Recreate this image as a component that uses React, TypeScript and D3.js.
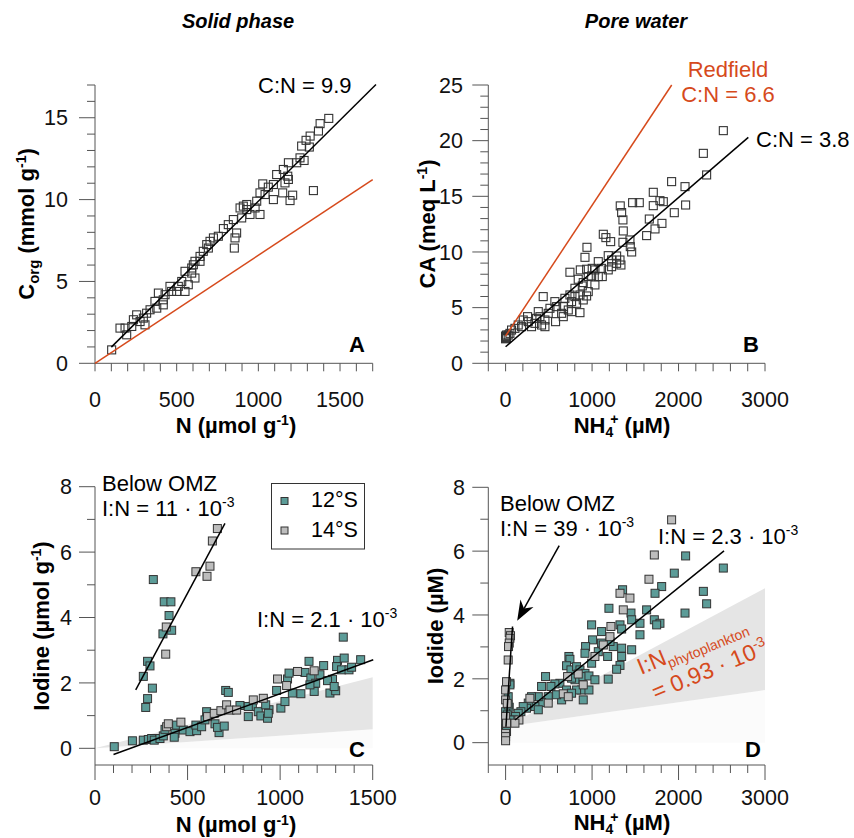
import React from "react";
import * as d3 from "d3";

const FONT = "'Liberation Sans', Arial, Helvetica, sans-serif";
const TEAL = "#5c9c98";
const GRAY = "#bdbdbd";
const RED = "#d64a1c";
const AXIS = "#555";

// ---------- Panel A : solid phase C_org vs N ----------
const aPoints: [number, number][] = [
  [1431, 14.96], [1378, 14.64], [1368, 14.19], [1317, 13.88], [1292, 13.62], [1265, 13.27], [1312, 13.21],
  [1255, 12.55], [1280, 12.39], [1235, 12.25], [1184, 12.25], [1153, 11.84], [1180, 11.43], [1112, 11.53],
  [1163, 11.02], [1184, 11.23], [1027, 10.96], [1061, 10.76], [1010, 10.41], [1041, 10.31], [1092, 10.0],
  [1149, 10.41], [1210, 10.27], [1194, 9.94], [1337, 10.55], [990, 9.9], [980, 9.49], [1010, 9.09],
  [908, 9.6], [929, 9.7], [888, 9.49], [949, 9.09], [898, 8.88], [847, 8.78], [816, 8.47], [786, 8.23],
  [867, 7.96], [857, 7.66], [853, 7.04], [725, 7.66], [704, 7.45], [684, 7.25], [663, 6.84], [643, 6.53],
  [612, 6.23], [602, 6.02], [592, 5.82], [551, 5.62], [612, 5.21], [571, 4.8], [531, 5.0], [500, 4.39],
  [459, 4.7], [551, 4.39], [429, 4.19], [388, 4.29], [367, 3.78], [418, 3.57], [378, 3.37], [337, 3.27],
  [316, 3.06], [296, 2.76], [276, 2.55], [235, 2.66], [225, 2.25], [184, 2.15], [153, 2.15], [194, 1.74],
  [102, 0.82], [643, 6.23], [694, 7.04], [755, 7.76], [929, 9.39], [1092, 10.92], [418, 3.88], [469, 4.39],
  [306, 2.35], [255, 2.96], [510, 4.7], [592, 5.51],
];
const aFit: [number, number][] = [[100, 0.99], [1720, 17.03]];
const aRedfield: [number, number][] = [[0, 0], [1700, 11.22]];
const aXMajor = [0, 500, 1000, 1500];
const aYMajor = [0, 5, 10, 15];

// ---------- Panel B : pore water CA vs NH4+ ----------
const bPoints: [number, number][] = [
  [2518, 20.9], [2287, 18.86], [2325, 16.92], [1920, 16.32], [2075, 15.87], [2082, 14.22], [1951, 13.53],
  [1708, 15.36], [1708, 14.16], [1785, 14.61], [1824, 14.52], [1808, 12.57], [1728, 12.07], [1662, 12.96],
  [1631, 11.47], [1546, 14.43], [1469, 14.43], [1326, 14.14], [1342, 13.54], [1357, 12.88], [1361, 11.89],
  [1357, 10.87], [1438, 11.08], [1442, 10.48], [1458, 10.0], [1130, 11.59], [1160, 11.29], [1215, 10.93],
  [941, 10.42], [918, 9.52], [744, 8.18], [435, 5.99], [1187, 9.67], [1284, 9.64], [1323, 9.28],
  [1334, 8.83], [1226, 9.28], [1226, 8.68], [1187, 8.39], [1110, 8.53], [1118, 7.79], [1072, 7.79],
  [1033, 8.39], [1002, 8.53], [937, 8.45], [864, 8.39], [840, 7.55], [898, 7.25], [956, 7.79], [995, 7.85],
  [1033, 7.04], [887, 6.95], [802, 6.74], [860, 6.14], [937, 6.05], [956, 6.44], [898, 5.69], [802, 5.99],
  [744, 6.14], [763, 5.54], [821, 5.39], [860, 4.55], [725, 4.79], [667, 5.09], [648, 4.49], [590, 5.09],
  [570, 5.54], [513, 4.94], [493, 4.49], [578, 3.74], [455, 3.89], [416, 3.44], [378, 4.64], [358, 4.04],
  [339, 3.59], [262, 3.74], [254, 4.19], [204, 3.89], [185, 3.29], [146, 3.44], [108, 3.14], [69, 2.99],
  [50, 2.69], [30, 2.54], [5, 2.39], [2, 2.25], [11, 2.54], [300, 3.29], [455, 3.29], [667, 4.19],
  [763, 4.64], [1072, 9.13], [1284, 8.98], [686, 5.84], [397, 4.19], [0, 2.2], [5, 2.35], [0, 2.45], [10, 2.3],
];
const bFit: [number, number][] = [[0, 1.49], [2807, 20.3]];
const bRedfield: [number, number][] = [[0, 2.45], [1921, 25]];
const bXMajor = [0, 1000, 2000, 3000];
const bYMajor = [0, 5, 10, 15, 20, 25];

// ---------- Panel C : solid phase iodine vs N ----------
const c12: [number, number][] = [
  [315, 5.16], [374, 4.48], [410, 4.48], [400, 4.06], [414, 3.61], [367, 3.5], [284, 2.66], [297, 2.52],
  [261, 2.2], [310, 1.84], [284, 1.52], [274, 1.25],
  [104, 0.05], [202, 0.23], [261, 0.25], [288, 0.27], [306, 0.3], [320, 0.25], [351, 0.3], [369, 0.38],
  [378, 0.58], [432, 0.46], [428, 0.34], [441, 0.71], [477, 0.56], [513, 0.51], [549, 0.54], [545, 0.71],
  [576, 0.66], [603, 1.12], [594, 0.87], [648, 0.75], [670, 0.48], [662, 0.64], [698, 0.68], [706, 1.77],
  [720, 1.71], [783, 1.31], [828, 0.97], [850, 1.28], [882, 1.12], [896, 0.99], [932, 0.92], [940, 1.18],
  [922, 1.33], [1004, 1.23], [981, 1.77], [1026, 1.43], [1040, 2.12], [1048, 2.3], [1066, 1.69],
  [1112, 1.67], [1134, 2.32], [1156, 2.66], [1166, 2.15], [1192, 1.99], [1184, 1.74], [1235, 2.53],
  [1215, 2.25], [1269, 1.69], [1300, 1.76], [1283, 2.11], [1256, 2.07], [1310, 2.69], [1305, 2.5],
  [1346, 2.76], [1341, 3.4], [1332, 2.4], [1372, 2.4], [1386, 2.48], [1435, 2.71], [1292, 1.89],
  [1161, 1.94], [828, 1.28], [936, 1.07],
];
const c14: [number, number][] = [
  [661, 6.72], [634, 6.34], [621, 5.57], [605, 5.26], [545, 5.4], [385, 3.71], [382, 2.88],
  [387, 0.66], [396, 0.75], [464, 0.8], [608, 0.97], [644, 1.07], [680, 1.15], [711, 1.33], [729, 1.17],
  [765, 1.17], [855, 1.48], [909, 1.53], [986, 2.12], [1035, 1.92], [1094, 2.35], [1184, 2.37],
];
const cFit: [number, number][] = [[100, -0.19], [1503, 2.71]];
const cFitOMZ: [number, number][] = [[220, 1.79], [702, 6.88]];
const cWedgeTop: [number, number][] = [[0, 0], [1500, 2.17]];
const cWedgeBottom: [number, number][] = [[0, 0], [1500, 0.58]];
const cXMajor = [0, 500, 1000, 1500];
const cYMajor = [0, 2, 4, 6, 8];

// ---------- Panel D : pore water iodide vs NH4+ ----------
const d12: [number, number][] = [
  [50, 1.86], [30, 1.44], [42, 1.11], [0, 0.97], [19, 0.87], [0, 0.45], [0, 0.55], [11, 0.35], [31, 1.18],
  [50, 1.81],
  [2082, 5.85], [1951, 5.31], [1805, 4.89], [1728, 4.68], [2287, 4.74], [2325, 4.35], [2518, 5.47],
  [1353, 4.79], [1195, 4.21], [1450, 4.06], [1631, 4.16], [2075, 4.06], [1458, 3.85], [1554, 3.74],
  [1720, 3.85], [1785, 3.74], [1747, 3.69], [1323, 3.69], [1342, 3.56], [995, 3.69], [1110, 3.48],
  [1554, 3.38], [1245, 3.01], [1207, 3.17], [1342, 2.96], [1458, 2.91], [1006, 3.22], [925, 3.01],
  [918, 2.8], [1072, 2.85], [1110, 3.12], [1180, 2.7], [995, 2.49], [1342, 2.7], [1323, 2.42], [1284, 2.3],
  [1187, 1.99], [732, 2.7], [744, 2.61], [705, 2.41], [756, 2.28], [821, 2.38], [860, 2.28], [918, 2.17],
  [887, 2.07], [964, 2.09], [802, 1.97], [763, 2.02], [462, 2.07], [628, 1.86], [570, 1.84], [524, 1.76],
  [416, 1.76], [879, 1.65], [964, 1.65], [1033, 1.97], [821, 1.65], [705, 1.65], [763, 1.55], [898, 1.34],
  [648, 1.34], [590, 1.5], [493, 1.44], [416, 1.26], [378, 1.44], [300, 1.44], [339, 1.13], [378, 1.03],
  [262, 1.24], [242, 1.08], [204, 1.13], [177, 0.97], [146, 0.92], [115, 0.82], [88, 0.71], [50, 0.71],
];
const d14: [number, number][] = [
  [42, 3.45], [57, 3.35], [50, 3.27], [42, 3.12], [34, 3.01], [30, 2.59], [11, 1.91], [0, 1.65], [0, 1.34],
  [0, 0.82], [11, 0.61], [0, 0.29], [0, 0.19], [0, 0.06], [19, 1.23],
  [1920, 6.98], [1720, 5.88], [1658, 5.12], [1323, 4.68], [1438, 4.53], [1361, 4.16], [1218, 3.64],
  [1207, 3.32], [1130, 3.06], [1033, 2.7], [840, 2.15], [717, 2.07], [898, 1.81], [667, 1.53], [725, 1.44],
  [493, 1.24], [281, 1.39], [154, 0.71], [108, 0.61],
];
const dFit: [number, number][] = [[108, 0.71], [2526, 6.01]];
const dFitOMZ: [number, number][] = [[4, 0.5], [80, 3.64]];
const dWedgeTop: [number, number][] = [[0, 0.5], [3000, 4.84]];
const dWedgeBottom: [number, number][] = [[0, 0.5], [3000, 1.65]];
const dArrow: [number, number][] = [[620, 6.17], [134, 3.82]];
const dXMajor = [0, 1000, 2000, 3000];
const dYMajor = [0, 2, 4, 6, 8];

// ---------- scales ----------
const axX = d3.scaleLinear().domain([0, 1700]).range([95, 372.7]);
const ayY = d3.scaleLinear().domain([0, 17]).range([363.3, 85]);
const bxX = d3.scaleLinear().domain([-200, 3000]).range([488.3, 765]);
const byY = d3.scaleLinear().domain([0, 25]).range([363.3, 85]);
const cxX = d3.scaleLinear().domain([0, 1500]).range([95, 372.7]);
const cyY = d3.scaleLinear().domain([-0.51, 8]).range([765, 486.7]);
const dxX = d3.scaleLinear().domain([-200, 3000]).range([488.3, 765]);
const dyY = d3.scaleLinear().domain([-0.7, 8]).range([765, 487.3]);

type Sc = d3.ScaleLinear<number, number>;

function YAxis({ x, y, top, bottom, step, major, labelRight }: { x: number; y: Sc; top: number; bottom: number; step: number; major: number[]; labelRight: number }) {
  const [d0, d1] = y.domain();
  const start = Math.ceil(Math.max(0, d0) / step) * step;
  const ticks = d3.range(start, d1 + 1e-9, step);
  return (
    <g>
      <line x1={x} x2={x} y1={top} y2={bottom} stroke={AXIS} strokeWidth={1} />
      {ticks.map((t) => {
        const isMajor = major.some((m) => Math.abs(m - t) < 1e-9);
        return <line key={t} x1={x - (isMajor ? 16 : 8)} x2={x} y1={y(t)} y2={y(t)} stroke={AXIS} strokeWidth={1} />;
      })}
      {major.map((m) => (
        <text key={"l" + m} x={labelRight} y={y(m)} dy="0.36em" textAnchor="end" fontSize={21.5} fontFamily={FONT} fill="#111">
          {m}
        </text>
      ))}
    </g>
  );
}

function XAxis({ y0, x, left, right, from, to, step, major, majorLen, minorLen, baseline }: { y0: number; x: Sc; left: number; right: number; from: number; to: number; step: number; major: number[]; majorLen: number; minorLen: number; baseline: number }) {
  const ticks = d3.range(from, to + 1e-9, step);
  return (
    <g>
      <line x1={left} x2={right} y1={y0} y2={y0} stroke={AXIS} strokeWidth={1} />
      {ticks.map((t) => {
        const isMajor = major.some((m) => Math.abs(m - t) < 1e-9);
        return <line key={t} x1={x(t)} x2={x(t)} y1={y0} y2={y0 + (isMajor ? majorLen : minorLen)} stroke={AXIS} strokeWidth={1} />;
      })}
      {major.map((m) => (
        <text key={"l" + m} x={x(m)} y={baseline} textAnchor="middle" fontSize={21.5} fontFamily={FONT} fill="#111">
          {m}
        </text>
      ))}
    </g>
  );
}

function Seg({ pts, x, y, color, w = 1.5 }: { pts: [number, number][]; x: Sc; y: Sc; color: string; w?: number }) {
  const l = d3.line<[number, number]>().x((d) => x(d[0])).y((d) => y(d[1]));
  return <path d={l(pts) || ""} stroke={color} strokeWidth={w} fill="none" />;
}

function OpenSquares({ pts, x, y }: { pts: [number, number][]; x: Sc; y: Sc }) {
  return (
    <g>
      {pts.map((p, i) => (
        <rect key={i} x={x(p[0]) - 4} y={y(p[1]) - 4} width={8} height={8} fill="none" stroke="#333" strokeWidth={1.1} />
      ))}
    </g>
  );
}

function FilledSquares({ pts, x, y, fill }: { pts: [number, number][]; x: Sc; y: Sc; fill: string }) {
  return (
    <g>
      {pts.map((p, i) => (
        <rect key={i} x={x(p[0]) - 4} y={y(p[1]) - 4} width={8} height={8} fill={fill} stroke="#333" strokeWidth={1} />
      ))}
    </g>
  );
}

function Wedge({ top, bottom, x, y, fill }: { top: [number, number][]; bottom: [number, number][]; x: Sc; y: Sc; fill: string }) {
  const pts = [...top, ...bottom.slice().reverse()];
  const l = d3.line<[number, number]>().x((d) => x(d[0])).y((d) => y(d[1]));
  return <path d={(l(pts) || "") + "Z"} fill={fill} stroke="none" />;
}

function Below({ bottom, x, y }: { bottom: [number, number][]; x: Sc; y: Sc }) {
  const pts: [number, number][] = [...bottom, [bottom[bottom.length - 1][0], 0], [bottom[0][0], 0]];
  const l = d3.line<[number, number]>().x((d) => x(d[0])).y((d) => y(d[1]));
  return <path d={(l(pts) || "") + "Z"} fill="#fbfbfb" stroke="none" />;
}

function Arrow({ pts, x, y }: { pts: [number, number][]; x: Sc; y: Sc }) {
  const x0 = x(pts[0][0]), y0 = y(pts[0][1]), x1 = x(pts[1][0]), y1 = y(pts[1][1]);
  const dx = x1 - x0, dy = y1 - y0;
  const L = Math.hypot(dx, dy);
  const ux = dx / L, uy = dy / L;
  const px = -uy, py = ux;
  const bx = x1 - 20 * ux, by = y1 - 20 * uy;
  const nx = x1 - 14 * ux, ny = y1 - 14 * uy;
  const head = `M${x1},${y1} L${bx + 7.5 * px},${by + 7.5 * py} L${nx},${ny} L${bx - 7.5 * px},${by - 7.5 * py} Z`;
  return (
    <g>
      <line x1={x0} y1={y0} x2={nx} y2={ny} stroke="#000" strokeWidth={1.5} />
      <path d={head} fill="#000" />
    </g>
  );
}

const T = (props: any) => <text fontFamily={FONT} {...props} />;

export default function App() {
  return (
    <svg width={854} height={838} style={{ position: "absolute", left: 0, top: 0, background: "#fff" }}>
      <rect x={0} y={0} width={854} height={838} fill="#fff" />
      {/* titles */}
      <T x={238} y={28} textAnchor="middle" fontSize={20} fontWeight="bold" fontStyle="italic">Solid phase</T>
      <T x={636} y={28} textAnchor="middle" fontSize={20} fontWeight="bold" fontStyle="italic">Pore water</T>

      {/* ===== Panel A ===== */}
      <YAxis x={axX(0)} y={ayY} top={ayY(17)} bottom={ayY(0)} step={1} major={aYMajor} labelRight={68} />
      <XAxis y0={ayY(0)} x={axX} left={axX(0)} right={axX(1700)} from={0} to={1700} step={100} major={aXMajor} majorLen={8} minorLen={8} baseline={407} />
      <OpenSquares pts={aPoints} x={axX} y={ayY} />
      <Seg pts={aRedfield} x={axX} y={ayY} color={RED} />
      <Seg pts={aFit} x={axX} y={ayY} color="#000" />
      <T x={258} y={93} fontSize={22}>C:N = 9.9</T>
      <T x={349} y={352} fontSize={22} fontWeight="bold">A</T>
      <T x={236} y={433} textAnchor="middle" fontSize={22} fontWeight="bold">
        N (µmol g<tspan fontSize={14} dy={-8}>-1</tspan><tspan dy={8}>)</tspan>
      </T>
      <T transform="translate(34,224) rotate(-90)" textAnchor="middle" fontSize={22} fontWeight="bold">
        C<tspan fontSize={15} dy={5}>org</tspan><tspan dy={-5}> (mmol g</tspan><tspan fontSize={14} dy={-8}>-1</tspan><tspan dy={8}>)</tspan>
      </T>

      {/* ===== Panel B ===== */}
      <YAxis x={bxX(-200)} y={byY} top={byY(25)} bottom={byY(0)} step={1} major={bYMajor} labelRight={463} />
      <XAxis y0={byY(0)} x={bxX} left={bxX(-200)} right={bxX(3000)} from={-200} to={3000} step={200} major={bXMajor} majorLen={8} minorLen={8} baseline={407} />
      <OpenSquares pts={bPoints} x={bxX} y={byY} />
      <Seg pts={bRedfield} x={bxX} y={byY} color={RED} />
      <Seg pts={bFit} x={bxX} y={byY} color="#000" />
      <T x={728} y={77} textAnchor="middle" fontSize={22} fill={RED}>Redfield</T>
      <T x={728} y={102} textAnchor="middle" fontSize={22} fill={RED}>C:N = 6.6</T>
      <T x={756} y={147} fontSize={22}>C:N = 3.8</T>
      <T x={743} y={352} fontSize={22} fontWeight="bold">B</T>
      <T x={622} y={433} textAnchor="middle" fontSize={22} fontWeight="bold">
        NH<tspan fontSize={14} dy={4}>4</tspan><tspan fontSize={14} dx={-3} dy={-13}>+</tspan><tspan dy={9}> (µM)</tspan>
      </T>
      <T transform="translate(435,224) rotate(-90)" textAnchor="middle" fontSize={22} fontWeight="bold">
        CA (meq L<tspan fontSize={14} dy={-8}>-1</tspan><tspan dy={8}>)</tspan>
      </T>

      {/* ===== Panel C ===== */}
      <Below bottom={cWedgeBottom} x={cxX} y={cyY} />
      <Wedge top={cWedgeTop} bottom={cWedgeBottom} x={cxX} y={cyY} fill="#e5e5e5" />
      <YAxis x={cxX(0)} y={cyY} top={cyY(8)} bottom={765} step={1} major={cYMajor} labelRight={72} />
      <XAxis y0={765} x={cxX} left={cxX(0)} right={cxX(1500)} from={0} to={1500} step={100} major={cXMajor} majorLen={15} minorLen={8} baseline={805} />
      <FilledSquares pts={c12} x={cxX} y={cyY} fill={TEAL} />
      <FilledSquares pts={c14} x={cxX} y={cyY} fill={GRAY} />
      <Seg pts={cFit} x={cxX} y={cyY} color="#000" />
      <Seg pts={cFitOMZ} x={cxX} y={cyY} color="#000" />
      <T x={102} y={491} fontSize={22}>Below OMZ</T>
      <T x={102} y={516} fontSize={22}>
        I:N = 11 · 10<tspan fontSize={14} dy={-9}>-3</tspan>
      </T>
      <T x={257} y={627} fontSize={22}>
        I:N = 2.1 · 10<tspan fontSize={14} dy={-9}>-3</tspan>
      </T>
      <rect x={271.5} y={483.5} width={93} height={65.5} fill="#fff" stroke="#333" strokeWidth={1} />
      <rect x={281} y={497.5} width={7} height={7} fill={TEAL} stroke="#333" strokeWidth={1} />
      <rect x={281} y={527} width={7} height={7} fill={GRAY} stroke="#333" strokeWidth={1} />
      <T x={311} y={507} fontSize={21.5}>12°S</T>
      <T x={311} y={537} fontSize={21.5}>14°S</T>
      <T x={349} y={757} fontSize={22} fontWeight="bold">C</T>
      <T x={236} y={832} textAnchor="middle" fontSize={22} fontWeight="bold">
        N (µmol g<tspan fontSize={14} dy={-7}>-1</tspan><tspan dy={7}>)</tspan>
      </T>
      <T transform="translate(49,626) rotate(-90)" textAnchor="middle" fontSize={22} fontWeight="bold">
        Iodine (µmol g<tspan fontSize={14} dy={-8}>-1</tspan><tspan dy={8}>)</tspan>
      </T>

      {/* ===== Panel D ===== */}
      <Below bottom={dWedgeBottom} x={dxX} y={dyY} />
      <Wedge top={dWedgeTop} bottom={dWedgeBottom} x={dxX} y={dyY} fill="#e5e5e5" />
      <YAxis x={dxX(-200)} y={dyY} top={dyY(8)} bottom={765} step={1} major={dYMajor} labelRight={465} />
      <XAxis y0={765} x={dxX} left={dxX(-200)} right={dxX(3000)} from={-200} to={3000} step={200} major={dXMajor} majorLen={15} minorLen={8} baseline={805} />
      <FilledSquares pts={d12} x={dxX} y={dyY} fill={TEAL} />
      <FilledSquares pts={d14} x={dxX} y={dyY} fill={GRAY} />
      <Seg pts={dFit} x={dxX} y={dyY} color="#000" />
      <Seg pts={dFitOMZ} x={dxX} y={dyY} color="#000" />
      <Arrow pts={dArrow} x={dxX} y={dyY} />
      <T x={500} y={511} fontSize={22}>Below OMZ</T>
      <T x={500} y={536} fontSize={22}>
        I:N = 39 · 10<tspan fontSize={14} dy={-9}>-3</tspan>
      </T>
      <T x={658} y={544} fontSize={22}>
        I:N = 2.3 · 10<tspan fontSize={14} dy={-9}>-3</tspan>
      </T>
      <g transform="translate(641,675) rotate(-22.5)">
        <T x={0} y={0} fontSize={23} fill={RED}>
          I:N<tspan fontSize={14} dy={5}>phytoplankton</tspan>
        </T>
        <T x={4} y={29} fontSize={23} fill={RED}>
          = 0.93 · 10<tspan fontSize={14} dy={-9}>-3</tspan>
        </T>
      </g>
      <T x={745} y={757} fontSize={22} fontWeight="bold">D</T>
      <T x={622} y={830} textAnchor="middle" fontSize={22} fontWeight="bold">
        NH<tspan fontSize={14} dy={4}>4</tspan><tspan fontSize={14} dx={-3} dy={-12}>+</tspan><tspan dy={8}> (µM)</tspan>
      </T>
      <T transform="translate(443,626) rotate(-90)" textAnchor="middle" fontSize={22} fontWeight="bold">
        Iodide (µM)
      </T>
    </svg>
  );
}
